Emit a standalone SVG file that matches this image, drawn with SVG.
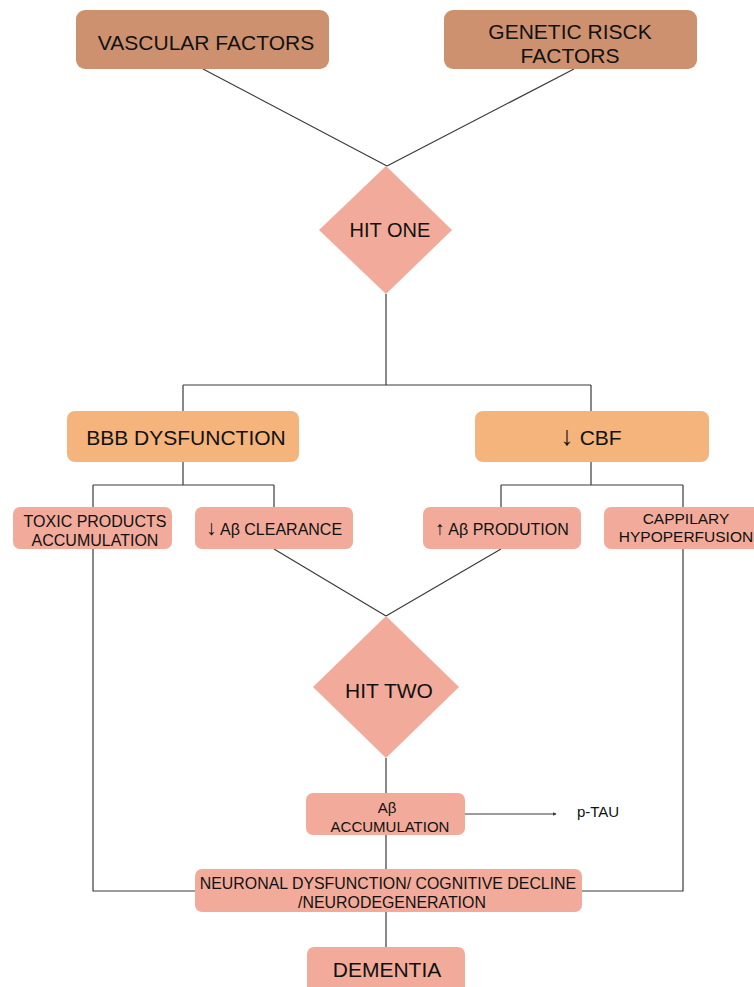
<svg xmlns="http://www.w3.org/2000/svg" width="754" height="987" viewBox="0 0 754 987">
<defs>
<style>
.t{font-family:"Liberation Sans",Arial,sans-serif;fill:#111;text-anchor:middle}
.brown{fill:#CE916F}
.orange{fill:#F4B47C}
.pink{fill:#F2AB9B}
.c{stroke:#3a3a3a;stroke-width:1.2;fill:none}
</style>
<marker id="dot" viewBox="0 0 6 6" refX="5" refY="3" markerWidth="4" markerHeight="4" orient="auto" markerUnits="userSpaceOnUse">
<path d="M0,0 L6,3 L0,6 z" fill="#3a3a3a"/>
</marker>
</defs>
<rect width="754" height="987" fill="#fff"/>
<g id="connectors">
<path class="c" d="M203,69 L387,166 M574,69 L387,166"/>
<path class="c" d="M386,294 V385 M183,385 H591 M183,385 V411 M591,385 V411"/>
<path class="c" d="M183,462 V485 M93,485 H274 M93,485 V507 M274,485 V507"/>
<path class="c" d="M591,462 V485 M501,485 H683 M501,485 V507 M683,485 V507"/>
<path class="c" d="M274,549 L386,616 M501,549 L386,616"/>
<path class="c" d="M386,758 V793 M386,835 V869 M386,912 V947"/>
<path class="c" d="M93,549 V891 H195 M683,549 V891 H582"/>
<path class="c" d="M465,814 H556" marker-end="url(#dot)"/>
</g>
<g id="vascular">
<rect class="brown" x="76" y="10" width="253" height="59" rx="9"/>
<text class="t" x="206" y="50" font-size="21">VASCULAR FACTORS</text>
</g>
<g id="genetic">
<rect class="brown" x="444" y="10" width="253" height="59" rx="9"/>
<text class="t" x="570" y="39" font-size="21">GENETIC RISCK</text>
<text class="t" x="570" y="63" font-size="21">FACTORS</text>
</g>
<g id="hit-one">
<polygon class="pink" points="386,166 452,230 386,294 319,230"/>
<text class="t" x="390" y="237" font-size="20">HIT ONE</text>
</g>
<g id="bbb">
<rect class="orange" x="67" y="411" width="232" height="51" rx="8"/>
<text class="t" x="186" y="445" font-size="21">BBB DYSFUNCTION</text>
</g>
<g id="cbf">
<rect class="orange" x="475" y="411" width="234" height="51" rx="8"/>
<text class="t" x="591" y="445" font-size="21"><tspan font-size="27">↓</tspan> CBF</text>
</g>
<g id="toxic">
<rect class="pink" x="13" y="507" width="159" height="42" rx="7"/>
<text class="t" x="95" y="527" font-size="16">TOXIC PRODUCTS</text>
<text class="t" x="95" y="546" font-size="16">ACCUMULATION</text>
</g>
<g id="clearance">
<rect class="pink" x="195" y="507" width="158" height="42" rx="7"/>
<text class="t" x="274" y="535" font-size="16"><tspan font-size="21">↓</tspan> Aβ CLEARANCE</text>
</g>
<g id="production">
<rect class="pink" x="423" y="507" width="158" height="42" rx="7"/>
<text class="t" x="502" y="535" font-size="16"><tspan font-size="19">↑</tspan> Aβ PRODUTION</text>
</g>
<g id="capillary">
<rect class="pink" x="604" y="507" width="164" height="42" rx="7"/>
<text class="t" x="686" y="524" font-size="15.5">CAPPILARY</text>
<text class="t" x="686" y="542" font-size="15.5">HYPOPERFUSION</text>
</g>
<g id="hit-two">
<polygon class="pink" points="386,616 459,687 386,758 313,687"/>
<text class="t" x="389" y="698" font-size="21">HIT TWO</text>
</g>
<g id="abeta">
<rect class="pink" x="306" y="793" width="159" height="42" rx="7"/>
<text class="t" x="387" y="813" font-size="15">Aβ</text>
<text class="t" x="390" y="832" font-size="15">ACCUMULATION</text>
</g>
<g id="ptau">
<text class="t" x="598" y="817" font-size="15">p-TAU</text>
</g>
<g id="neuronal">
<rect class="pink" x="195" y="869" width="387" height="43" rx="7"/>
<text class="t" x="388" y="889" font-size="15.9">NEURONAL DYSFUNCTION/ COGNITIVE DECLINE</text>
<text class="t" x="392" y="908" font-size="15.9">/NEURODEGENERATION</text>
</g>
<g id="dementia">
<rect class="pink" x="307" y="947" width="158" height="50" rx="7"/>
<text class="t" x="387" y="977" font-size="21">DEMENTIA</text>
</g>
</svg>
